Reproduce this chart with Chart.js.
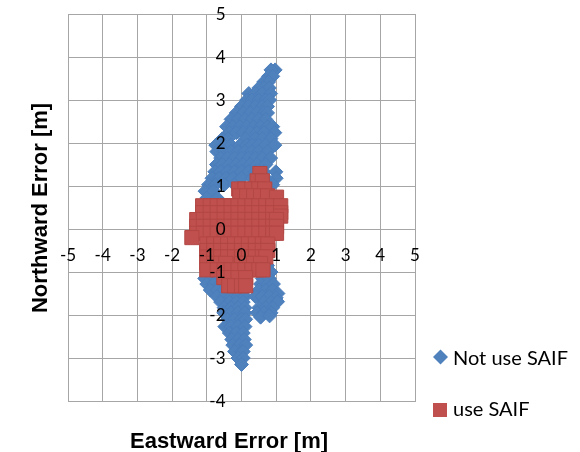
<!DOCTYPE html>
<html>
<head>
<meta charset="utf-8">
<script src="https://cdn.jsdelivr.net/npm/chart.js@4.4.1/dist/chart.umd.min.js"></script>
<style>
  body { margin: 0; background: #fff; }
  canvas { display: block; }
</style>
</head>
<body>
<canvas id="errChart" width="580" height="452"></canvas>
<script>
// tick labels for both axes
var xTicks = [-5, -4, -3, -2, -1, 0, 1, 2, 3, 4, 5];
var yTicks = [-4, -3, -2, -1, 0, 1, 2, 3, 4, 5];

var seriesNames = ["Not use SAIF", "use SAIF"];

// [east, north] errors in metres
var notUseSaif = [
  [0.97, 3.70], [0.85, 3.70],
  [0.78, 3.55], [0.90, 3.55],
  [0.64, 3.42], [0.78, 3.42],
  [0.50, 3.28], [0.65, 3.28], [0.80, 3.28],
  [0.21, 3.15], [0.40, 3.15], [0.60, 3.15], [0.84, 3.15],
  [0.15, 3.00], [0.30, 3.00], [0.50, 3.00], [0.70, 3.00], [0.81, 3.00],
  [0.00, 2.85], [0.20, 2.85], [0.40, 2.85], [0.60, 2.85], [0.75, 2.85],
  [-0.15, 2.70], [0.05, 2.70], [0.25, 2.70], [0.45, 2.70], [0.65, 2.70], [0.75, 2.70],
  [-0.30, 2.55], [-0.10, 2.55], [0.10, 2.55], [0.30, 2.55], [0.50, 2.55], [0.70, 2.55],
  [-0.43, 2.38], [-0.25, 2.38], [-0.05, 2.38], [0.15, 2.38], [0.35, 2.38], [0.55, 2.38], [0.75, 2.38], [0.90, 2.38],
  [-0.35, 2.24], [-0.15, 2.24], [0.05, 2.24], [0.25, 2.24], [0.45, 2.24], [0.65, 2.24], [0.96, 2.24],
  [-0.55, 2.10], [-0.38, 2.10], [0.12, 2.10], [0.40, 2.10], [0.60, 2.10], [0.85, 2.10],
  [-0.74, 1.95], [-0.50, 1.95], [-0.30, 1.95], [-0.05, 1.95], [0.15, 1.95], [0.30, 1.95], [0.50, 1.95], [0.70, 1.95], [0.96, 1.95],
  [-0.71, 1.80], [-0.50, 1.80], [-0.30, 1.80], [-0.10, 1.80], [0.10, 1.80], [0.30, 1.80], [0.50, 1.80], [0.75, 1.80],
  [-0.60, 1.65], [-0.40, 1.65], [-0.20, 1.65], [0.00, 1.65], [0.20, 1.65], [0.40, 1.65], [0.60, 1.65], [0.84, 1.65],
  [-0.72, 1.50], [-0.55, 1.50], [-0.35, 1.50], [-0.15, 1.50], [0.05, 1.50], [0.25, 1.50], [0.45, 1.50], [0.70, 1.50],
  [-0.77, 1.33], [-0.60, 1.33], [-0.40, 1.33], [-0.20, 1.33], [0.00, 1.33], [0.20, 1.33], [0.40, 1.33], [0.65, 1.33], [0.99, 1.33],
  [-0.85, 1.18], [-0.65, 1.18], [-0.45, 1.18], [-0.25, 1.18], [0.00, 1.18], [0.30, 1.18], [0.70, 1.18], [1.00, 1.18],
  [-0.95, 1.03], [-0.75, 1.03], [-0.50, 1.03], [-0.20, 1.03], [0.90, 1.03],
  [-1.05, 0.88], [-0.80, 0.88],
  [-1.00, 0.72], [-0.70, 0.72],
  [-0.25, -0.85], [0.75, -0.85],
  [-1.00, -1.00], [0.70, -1.00], [0.85, -1.00],
  [-1.06, -1.15], [-0.85, -1.15], [0.60, -1.15], [0.80, -1.15],
  [-1.00, -1.28], [-0.80, -1.28], [-0.60, -1.28], [0.55, -1.28], [0.75, -1.28], [0.92, -1.28],
  [-0.90, -1.42], [-0.70, -1.42], [-0.50, -1.42], [-0.30, -1.42], [-0.10, -1.42], [0.10, -1.42], [0.50, -1.42], [0.70, -1.42], [0.90, -1.42], [1.05, -1.50],
  [-0.71, -1.57], [-0.50, -1.57], [-0.30, -1.57], [-0.10, -1.57], [0.10, -1.57], [0.40, -1.57], [0.60, -1.57], [0.80, -1.57], [1.00, -1.60],
  [-0.60, -1.70], [-0.35, -1.70], [-0.15, -1.70], [0.05, -1.70], [0.65, -1.70], [0.85, -1.70], [1.04, -1.69],
  [-0.50, -1.83], [-0.30, -1.83], [-0.10, -1.83], [0.10, -1.83], [0.50, -1.83], [0.70, -1.83], [0.90, -1.83],
  [-0.51, -1.95], [-0.30, -1.95], [-0.10, -1.95], [0.10, -1.95], [0.45, -1.95], [0.65, -1.95], [0.85, -1.95],
  [0.55, -2.05], [0.81, -2.02],
  [-0.40, -2.10], [-0.20, -2.10], [0.00, -2.10], [0.12, -2.10],
  [-0.48, -2.27], [-0.30, -2.27], [-0.10, -2.27], [0.10, -2.27],
  [-0.35, -2.42], [-0.15, -2.42], [0.05, -2.42],
  [-0.28, -2.57], [-0.10, -2.57], [0.08, -2.57],
  [-0.25, -2.70], [-0.05, -2.70], [0.12, -2.70],
  [-0.20, -2.85], [0.00, -2.85], [0.05, -2.85],
  [-0.10, -3.00], [0.05, -3.00],
  [0.00, -3.15]
];

var useSaif = [
  [0.53, 1.29],
  [0.45, 1.12], [0.60, 1.12],
  [-0.08, 0.93], [0.10, 0.93], [0.30, 0.93], [0.50, 0.93], [0.67, 0.93],
  [-0.05, 0.77], [0.15, 0.77], [0.35, 0.77], [0.55, 0.77], [0.75, 0.77], [1.01, 0.74],
  [-1.12, 0.54], [-0.90, 0.54], [-0.70, 0.54], [-0.50, 0.54], [-0.30, 0.54], [-0.10, 0.54], [0.10, 0.54], [0.30, 0.54], [0.50, 0.54], [0.70, 0.54], [0.90, 0.54], [1.13, 0.54],
  [-1.12, 0.38], [-0.90, 0.38], [-0.70, 0.38], [-0.50, 0.38], [-0.30, 0.38], [-0.10, 0.38], [0.10, 0.38], [0.30, 0.38], [0.50, 0.38], [0.70, 0.38], [0.90, 0.38], [1.13, 0.38],
  [1.13, 0.30],
  [-1.29, 0.22], [-1.10, 0.22], [-0.90, 0.22], [-0.70, 0.22], [-0.50, 0.22], [-0.30, 0.22], [-0.10, 0.22], [0.10, 0.22], [0.30, 0.22], [0.50, 0.22], [0.70, 0.22], [0.90, 0.22], [1.01, 0.22],
  [-1.29, 0.06], [-1.10, 0.06], [-0.90, 0.06], [-0.70, 0.06], [-0.50, 0.06], [-0.30, 0.06], [-0.10, 0.06], [0.10, 0.06], [0.30, 0.06], [0.50, 0.06], [0.70, 0.06], [0.90, 0.06], [1.01, 0.06],
  [-1.29, -0.10], [-1.10, -0.10], [-0.90, -0.10], [-0.70, -0.10], [-0.50, -0.10], [-0.30, -0.10], [-0.10, -0.10], [0.10, -0.10], [0.30, -0.10], [0.50, -0.10], [0.70, -0.10], [0.90, -0.10], [1.01, -0.10],
  [-1.43, -0.20],
  [-1.00, -0.35], [-0.80, -0.35], [-0.60, -0.35], [-0.40, -0.35], [-0.20, -0.35], [0.00, -0.35], [0.20, -0.35], [0.40, -0.35], [0.60, -0.35], [0.76, -0.35],
  [-1.00, -0.50], [-0.80, -0.50], [-0.60, -0.50], [-0.40, -0.50], [-0.20, -0.50], [0.00, -0.50], [0.20, -0.50], [0.40, -0.50], [0.60, -0.50], [0.76, -0.50],
  [-1.00, -0.65], [-0.80, -0.65], [-0.60, -0.65], [-0.40, -0.65], [-0.20, -0.65], [0.00, -0.65], [0.20, -0.65], [0.40, -0.65], [0.60, -0.65], [0.70, -0.65],
  [-1.00, -0.80], [-0.80, -0.80], [-0.60, -0.80], [-0.45, -0.80], [0.00, -0.80], [0.15, -0.80], [0.35, -0.80], [0.55, -0.80],
  [-1.00, -0.95], [-0.70, -0.95], [-0.50, -0.95], [-0.30, -0.95], [-0.10, -0.95], [0.10, -0.95], [0.30, -0.95], [0.50, -0.95], [0.62, -0.95],
  [-0.51, -1.13], [-0.30, -1.13], [-0.10, -1.13], [0.12, -1.13],
  [-0.37, -1.32], [-0.20, -1.32], [0.00, -1.32], [0.12, -1.32]
];

var FONT = "Lato, 'Liberation Sans', Arial, sans-serif";
var TITLE_FONT = "'Liberation Sans', Arial, sans-serif";

function toPoints(list) {
  return list.map(function(p) { return { x: p[0], y: p[1] }; });
}

// axis numbers, titles and legend are drawn by hand, Excel style
var excelBits = {
  id: 'excelBits',
  afterDraw: function(chart) {
    var ctx = chart.ctx;
    var xs = chart.scales.x, ys = chart.scales.y;
    var x0 = xs.getPixelForValue(0), y0 = ys.getPixelForValue(0);
    ctx.save();
    ctx.fillStyle = '#000';
    ctx.font = '17px ' + FONT;

    // x numbers sit a little under the zero line
    ctx.textAlign = 'center';
    ctx.textBaseline = 'alphabetic';
    xTicks.forEach(function(v) {
      ctx.fillText(String(v), xs.getPixelForValue(v), y0 + 32);
    });

    // y numbers just left of the zero line
    ctx.textAlign = 'right';
    yTicks.forEach(function(v) {
      ctx.fillText(String(v), x0 - 16, ys.getPixelForValue(v) + 6);
    });

    // axis titles
    ctx.font = 'bold 22px ' + TITLE_FONT;
    ctx.textAlign = 'center';
    ctx.fillText('Eastward Error [m]', 229, 448);
    ctx.save();
    ctx.translate(47, 208);
    ctx.rotate(-Math.PI / 2);
    ctx.fillText('Northward Error [m]', 0, 0);
    ctx.restore();

    // legend
    ctx.font = '20px ' + FONT;
    ctx.textAlign = 'left';
    ctx.fillStyle = '#4F81BD';
    ctx.beginPath();
    ctx.moveTo(440.5, 349.5);
    ctx.lineTo(448, 357);
    ctx.lineTo(440.5, 364.5);
    ctx.lineTo(433, 357);
    ctx.closePath();
    ctx.fill();
    ctx.fillStyle = '#C0504D';
    ctx.fillRect(433, 403, 14, 14);
    ctx.fillStyle = '#000';
    ctx.fillText(seriesNames[0], 453, 365);
    ctx.fillText(seriesNames[1], 453, 416);
    ctx.restore();
  }
};

var ctx = document.getElementById('errChart').getContext('2d');
var errChart = new Chart(ctx, {
  type: 'scatter',
  data: {
    datasets: [{
      label: seriesNames[0],
      data: toPoints(notUseSaif),
      pointStyle: 'rectRot',
      pointRadius: 7,
      backgroundColor: '#4F81BD',
      borderColor: '#4A7DBA',
      borderWidth: 1,
      order: 1
    }, {
      label: seriesNames[1],
      data: toPoints(useSaif),
      pointStyle: 'rect',
      pointRadius: 10,
      backgroundColor: '#C0504D',
      borderColor: '#B24744',
      borderWidth: 1,
      order: 0
    }]
  },
  options: {
    responsive: false,
    animation: false,
    devicePixelRatio: 1,
    layout: { padding: { left: 68, right: 165, top: 14, bottom: 51 } },
    plugins: {
      legend: { display: false },
      tooltip: { enabled: false }
    },
    scales: {
      x: {
        type: 'linear',
        min: -5, max: 5,
        ticks: { stepSize: 1, display: false },
        grid: { color: '#A6A6A6', drawTicks: false },
        border: { color: '#A6A6A6' }
      },
      y: {
        type: 'linear',
        min: -4, max: 5,
        ticks: { stepSize: 1, display: false },
        grid: { color: '#A6A6A6', drawTicks: false },
        border: { color: '#A6A6A6' }
      }
    }
  },
  plugins: [excelBits]
});
</script>
</body>
</html>
